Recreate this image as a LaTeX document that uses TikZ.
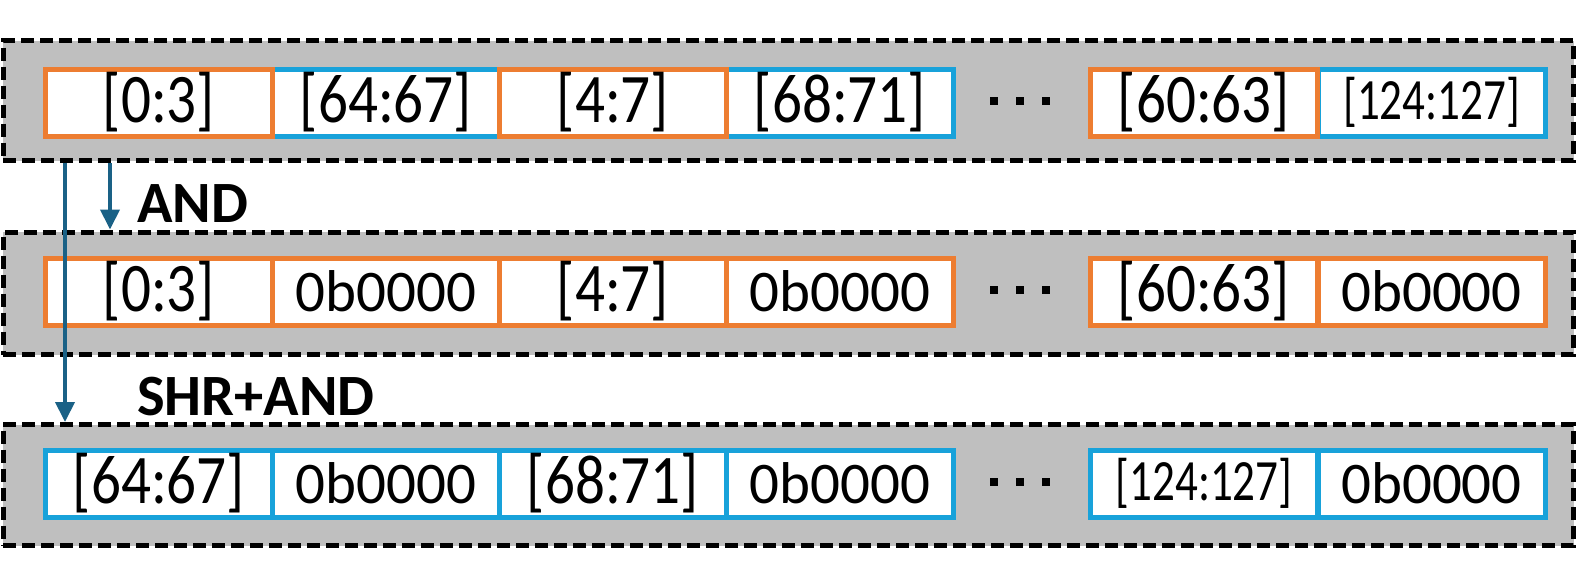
\documentclass[tikz,border=0pt]{standalone}
\usepackage{fontspec}
\setmainfont{Carlito}
\usetikzlibrary{arrows.meta}
\definecolor{cOrange}{HTML}{ED7D31}
\definecolor{cBlue}{HTML}{18A2DA}
\definecolor{cArrow}{HTML}{1A6186}
\definecolor{cGray}{HTML}{BFBFBF}
\newcommand\rngL[1]{\scalebox{0.85}[1]{\fontsize{69.6}{70}\selectfont #1}}
\newcommand\rngS[1]{\scalebox{0.77}[1]{\fontsize{58.5}{60}\selectfont #1}}
\newcommand\zerob{{\fontsize{59}{60}\selectfont 0b0000}}
\begin{document}
\begin{tikzpicture}[x=1pt,y=-1pt,
 outerbox/.style={draw=black, fill=cGray, line width=5pt, dash pattern=on 13pt off 6pt, minimum width=1570.5pt, inner sep=0pt},
 cell/.style={fill=white, line width=5pt, minimum width=227pt, minimum height=67pt, inner sep=0pt},
 ocell/.style={cell, draw=cOrange},
 bcell/.style={cell, draw=cBlue},
 dotsq/.style={fill=black, minimum size=8pt, inner sep=0pt},
 arr/.style={draw=cArrow, line width=4pt, -{Triangle[width=19pt,length=20pt]}},
 oplabel/.style={font=\fontsize{58.5}{60}\selectfont\bfseries, inner sep=0pt, anchor=base west}
]
\useasboundingbox (0,0) rectangle (1578,560);
% outer boxes
\node[outerbox, minimum height=120pt] (row1) at (788.25,100.5) {};
\node[outerbox, minimum height=122.5pt] (row2) at (788.25,293.25) {};
\node[outerbox, minimum height=121pt] (row3) at (788.25,485) {};
% row 1
\node[bcell] (r1c2) at (386,102.5) {\rngL{[64:67]}};
\node[bcell] (r1c4) at (840,102.5) {\rngL{[68:71]}};
\node[bcell] (r1c6) at (1431.5,102.5) {\rngS{[124:127]}};
\node[ocell] (r1c1) at (159,102.5) {\rngL{[0:3]}};
\node[ocell] (r1c3) at (613,102.5) {\rngL{[4:7]}};
\node[ocell] (r1c5) at (1204,102.5) {\rngL{[60:63]}};
% row 2
\node[ocell] (r2c1) at (159,291.5) {\rngL{[0:3]}};
\node[ocell] (r2c2) at (386,291.5) {\zerob};
\node[ocell] (r2c3) at (613,291.5) {\rngL{[4:7]}};
\node[ocell] (r2c4) at (840,291.5) {\zerob};
\node[ocell] (r2c5) at (1204,291.5) {\rngL{[60:63]}};
\node[ocell] (r2c6) at (1431.5,291.5) {\zerob};
% row 3
\node[bcell] (r3c1) at (159,483.5) {\rngL{[64:67]}};
\node[bcell] (r3c2) at (386,483.5) {\zerob};
\node[bcell] (r3c3) at (613,483.5) {\rngL{[68:71]}};
\node[bcell] (r3c4) at (840,483.5) {\zerob};
\node[bcell] (r3c5) at (1204,483.5) {\rngS{[124:127]}};
\node[bcell] (r3c6) at (1431.5,483.5) {\zerob};
% dots
\foreach \r/\y in {1/100.5, 2/289.5, 3/481.5}{
  \node[dotsq] (d\r a) at (994,\y) {};
  \node[dotsq] (d\r b) at (1019.5,\y) {};
  \node[dotsq] (d\r c) at (1046,\y) {};
}
% operation labels
\node[oplabel] (andlbl) at (137,222) {AND};
\node[oplabel] (shrlbl) at (137,415) {SHR+AND};
% arrows
\draw[arr] (row1.south -| 110,0) -- (row2.north -| 110,0);
\draw[arr] (row1.south -| 65,0) -- (row3.north -| 65,0);
\end{tikzpicture}
\end{document}
